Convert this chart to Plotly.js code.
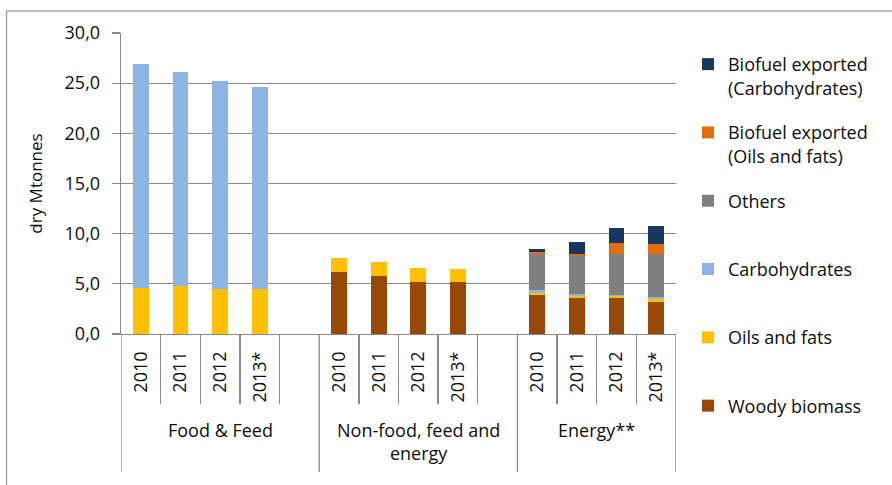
<!DOCTYPE html>
<html>
<head>
<meta charset="utf-8">
<script src="https://cdn.plot.ly/plotly-3.0.1.min.js"></script>
<style>html,body{margin:0;padding:0;background:#fff;}#chart{width:892px;height:485px;}</style>
</head>
<body>
<div id="chart"></div>
<script>
// ---- data ----
var groups = ['Food & Feed', 'Non-food, feed and<br>energy', 'Energy**'];
var years = ['2010', '2011', '2012', '2013*'];
// values in order: Food & Feed (4 years), Non-food (4 years), Energy (4 years)
var woodyBiomass   = [0, 0, 0, 0,            6.15, 5.75, 5.15, 5.15,   3.9, 3.6, 3.55, 3.2];
var oilsAndFats    = [4.55, 4.75, 4.5, 4.45, 1.45, 1.45, 1.4, 1.3,     0.15, 0.15, 0.2, 0.3];
var carbohydrates  = [22.4, 21.4, 20.75, 20.2, 0, 0, 0, 0,             0.35, 0.2, 0.15, 0.2];
var others         = [0, 0, 0, 0,            0, 0, 0, 0,               3.6, 3.8, 4.1, 4.25];
var biofuelExpOils = [0, 0, 0, 0,            0, 0, 0, 0,               0.15, 0.25, 1.05, 1.0];
var biofuelExpCarb = [0, 0, 0, 0,            0, 0, 0, 0,               0.35, 1.2, 1.5, 1.8];

var seriesNames = ['Woody biomass<br> ', 'Oils and fats<br> ', 'Carbohydrates<br> ', 'Others<br> ',
                   'Biofuel exported<br>(Oils and fats)', 'Biofuel exported<br>(Carbohydrates)'];
var seriesValues = [woodyBiomass, oilsAndFats, carbohydrates, others, biofuelExpOils, biofuelExpCarb];
var seriesColors = ['#984807', '#FFC000', '#8DB4E2', '#7F7F7F', '#E46C0A', '#17375E'];

// ---- layout helpers ----
var slotsPerGroup = 5; // 4 years + one empty slot
var xPos = [], xYearLabels = [];
groups.forEach(function (g, gi) {
  years.forEach(function (y, yi) {
    xPos.push(gi * slotsPerGroup + yi);
    xYearLabels.push(y);
  });
});
var nSlots = (groups.length - 1) * slotsPerGroup + years.length; // 14
var xRange = [-0.5, nSlots - 0.5];

var FONT = 'Open Sans, Lato, sans-serif';
var TXT = '#0d0d0d';
var GRID = '#898989';

var traces = seriesValues.map(function (vals, i) {
  return {
    type: 'bar',
    name: seriesNames[i],
    x: xPos,
    y: vals,
    marker: {color: seriesColors[i], line: {width: 0}},
    legendgroup: 'g' + i,
    legendrank: seriesValues.length - i,
    hoverinfo: 'y+name'
  };
});
// empty trace that anchors the boundary-tick axis
traces.push({type: 'scatter', x: [], y: [], xaxis: 'x2', showlegend: false, hoverinfo: 'skip'});

// inner boundary ticks (between years, incl. before empty slot)
var innerTicks = [];
groups.forEach(function (g, gi) {
  for (var yi = 0; yi < years.length; yi++) {
    var b = gi * slotsPerGroup + yi + 0.5;
    if (b < nSlots - 0.5) innerTicks.push(b);
  }
});
// group dividers
var dividers = [];
for (var gi = 0; gi < groups.length; gi++) dividers.push(gi * slotsPerGroup - 0.5);
dividers.push(nSlots - 0.5);

var shapes = dividers.map(function (d) {
  return {type: 'line', xref: 'x', yref: 'paper', x0: d, x1: d, y0: 0, y1: -0.4585,
          line: {color: GRID, width: 1.3}};
});
// outer frame (left and top edges visible)
shapes.push({type: 'rect', xref: 'paper', yref: 'paper', x0: -0.2063, x1: 1.45, y0: -0.6, y1: 1.0731,
             line: {color: '#a6a6a6', width: 1.5}, layer: 'below'});

var annotations = groups.map(function (g, gi) {
  var start = gi * slotsPerGroup - 0.5;
  var end = Math.min(start + slotsPerGroup, nSlots - 0.5);
  return {text: g, xref: 'x', yref: 'paper', x: (start + end) / 2, y: -0.272,
          xanchor: 'center', yanchor: 'top', showarrow: false, align: 'center',
          font: {family: FONT, size: 18, color: TXT}};
});

var layout = {
  width: 892, height: 485,
  margin: {l: 121, r: 216, t: 33, b: 151},
  paper_bgcolor: '#ffffff', plot_bgcolor: '#ffffff',
  separators: ',.',
  barmode: 'stack',
  bargap: 0.6,
  font: {family: FONT, size: 18, color: TXT},
  showlegend: true,
  legend: {
    x: 1.0216, xanchor: 'left', y: 0.957, yanchor: 'top',
    traceorder: 'grouped', valign: 'top',
    tracegroupgap: 18.5, maxheight: 470,
    font: {family: FONT, size: 18, color: TXT},
    bgcolor: 'rgba(0,0,0,0)'
  },
  xaxis: {
    type: 'linear', range: xRange, fixedrange: true,
    tickmode: 'array', tickvals: xPos, ticktext: xYearLabels,
    tickangle: -90, ticks: '', ticklabelstandoff: 9,
    showline: true, linecolor: GRID, linewidth: 1.3,
    showgrid: false, zeroline: false,
    tickfont: {family: FONT, size: 18, color: TXT}
  },
  xaxis2: {
    type: 'linear', range: xRange, overlaying: 'x', anchor: 'y', side: 'bottom',
    tickmode: 'array', tickvals: innerTicks, ticks: 'outside', ticklen: 69,
    tickcolor: GRID, tickwidth: 1.3, showticklabels: false,
    showline: false, showgrid: false, zeroline: false, fixedrange: true
  },
  yaxis: {
    range: [0, 30], dtick: 5, tick0: 0, tickformat: '.1f',
    ticks: 'outside', ticklen: 8, tickcolor: GRID, tickwidth: 1.3,
    ticklabelstandoff: 8,
    showline: true, linecolor: GRID, linewidth: 1.3,
    showgrid: true, gridcolor: GRID, gridwidth: 1.3, zeroline: false,
    tickfont: {family: FONT, size: 18, color: TXT},
    title: {text: 'dry Mtonnes', font: {family: FONT, size: 17, color: TXT}, standoff: 17},
    fixedrange: true
  },
  shapes: shapes,
  annotations: annotations
};

Plotly.newPlot('chart', traces, layout, {displayModeBar: false, staticPlot: true});
</script>
</body>
</html>
